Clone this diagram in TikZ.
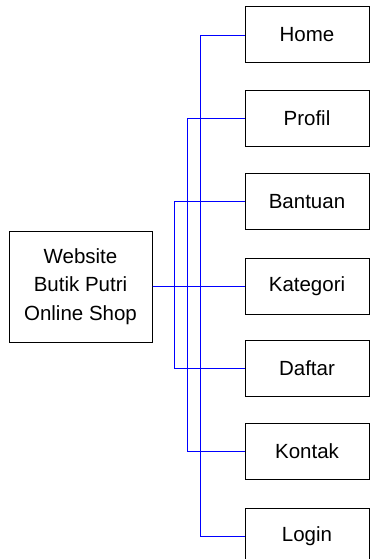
\documentclass[tikz,border=0pt]{standalone}
\usepackage{fontspec}
\setmainfont{Liberation Sans}
\begin{document}
\begin{tikzpicture}[x=1pt,y=-1pt,
  menubox/.style={draw=black, line width=1pt, minimum width=124pt, minimum height=56pt, inner sep=0pt, font=\fontsize{20.5}{28}\selectfont},
  mainbox/.style={draw=black, line width=1pt, minimum width=143pt, minimum height=111pt, inner sep=0pt, align=center, font=\fontsize{20.5}{28.5}\selectfont},
  conn/.style={draw={rgb,255:red,0;green,0;blue,255}, line width=0.9pt}]
\useasboundingbox (0,0) rectangle (370,559);
\clip (0,0) rectangle (370,559);
\node[mainbox] (main) at (80.5,286.5) {Website\\Butik Putri\\Online Shop};
\node[menubox] (home) at (307,35) {Home};
\node[menubox] (profil) at (307,118.5) {Profil};
\node[menubox] (bantuan) at (307,201.5) {Bantuan};
\node[menubox] (kategori) at (307,286.5) {Kategori};
\node[menubox] (daftar) at (307,368.5) {Daftar};
\node[menubox] (kontak) at (307,451.5) {Kontak};
\node[menubox] (login) at (307,536) {Login};
\coordinate (va) at (174,286.5);
\coordinate (vb) at (187,286.5);
\coordinate (vc) at (200,286.5);
\draw[conn] (main.east) -- (vc) |- (home.west);
\draw[conn] (main.east) -- (vb) |- (profil.west);
\draw[conn] (main.east) -- (va) |- (bantuan.west);
\draw[conn] (main.east) -- (kategori.west);
\draw[conn] (main.east) -- (va) |- (daftar.west);
\draw[conn] (main.east) -- (vb) |- (kontak.west);
\draw[conn] (main.east) -- (vc) |- (login.west);
\end{tikzpicture}
\end{document}
